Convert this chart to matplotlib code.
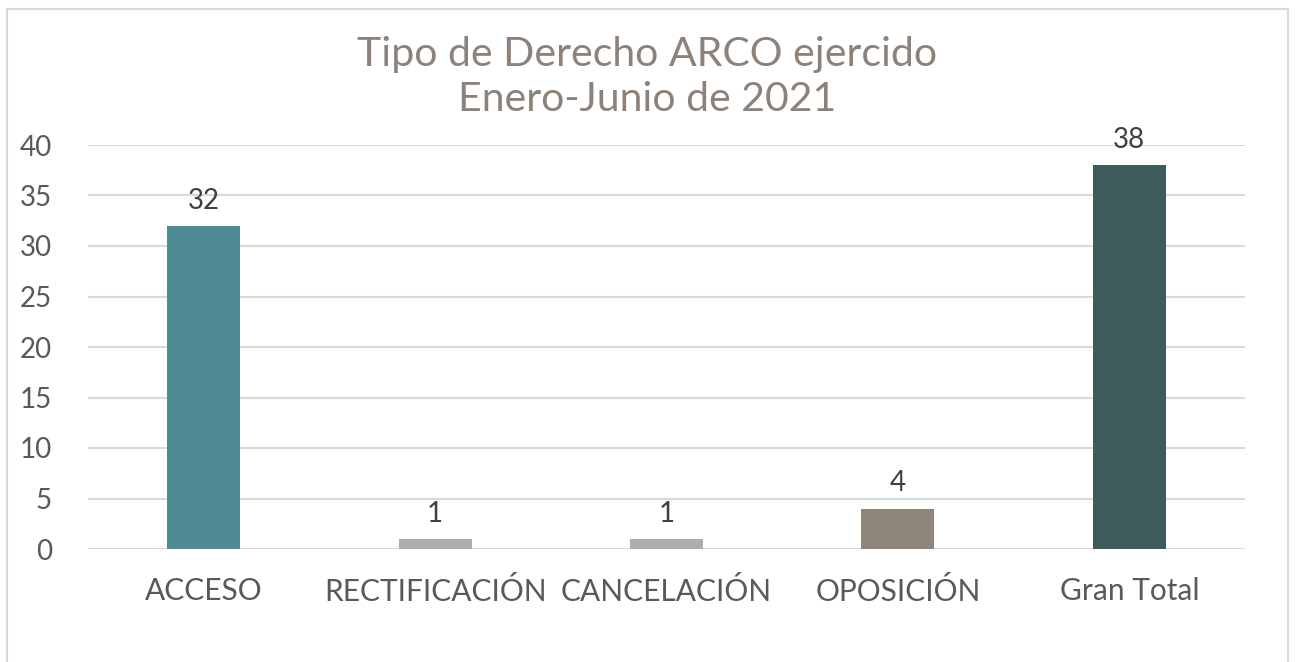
import matplotlib.pyplot as plt
from matplotlib.patches import Rectangle

categorias = ["ACCESO", "RECTIFICACIÓN", "CANCELACIÓN", "OPOSICIÓN", "Gran Total"]
valores = [32, 1, 1, 4, 38]
colores = ["#4E8B94", "#ADADAD", "#ADADAD", "#8F857B", "#3D5B5A"]
titulo = "Tipo de Derecho ARCO ejercido\nEnero-Junio de 2021"

plt.rcParams['font.family'] = ['Lato', 'DejaVu Sans']

fig = plt.figure(figsize=(12.95, 6.62), dpi=100)
# marco del grafico
fig.patches.append(Rectangle((7 / 1295, -0.1), 1281 / 1295, 1 - 9 / 662 + 0.1,
                             transform=fig.transFigure, fill=False,
                             edgecolor="#D9D9D9", linewidth=1.5))

ax = fig.add_axes([88 / 1295, 1 - 549 / 662, 1157 / 1295, 404 / 662])
x = range(len(categorias))
barras = ax.bar(x, valores, width=0.316, color=colores, zorder=3)

for xi, v in zip(x, valores):
    ax.text(xi, v + 1.2, str(v), ha="center", va="bottom", fontsize=20, color="#404040")

ax.set_ylim(0, 40)
ax.set_xlim(-0.5, len(categorias) - 0.5)
ax.set_yticks(range(0, 41, 5))
ax.set_xticks(list(x))
ax.set_xticklabels(categorias, fontsize=21.5)
ax.set_yticklabels([str(t) for t in range(0, 41, 5)], fontsize=20)
ax.tick_params(axis="both", length=0, labelcolor="#595959")
ax.tick_params(axis="y", pad=26)
ax.tick_params(axis="x", pad=20)
ax.grid(axis="y", color="#D9D9D9", linewidth=1.5, zorder=0)
for s in ax.spines.values():
    s.set_visible(False)

fig.text(0.5, 1 - 77 / 662, titulo, ha="center", va="center", fontsize=29.5,
         color="#8C8279", linespacing=1.25)

fig.savefig("out.png", dpi=100)
